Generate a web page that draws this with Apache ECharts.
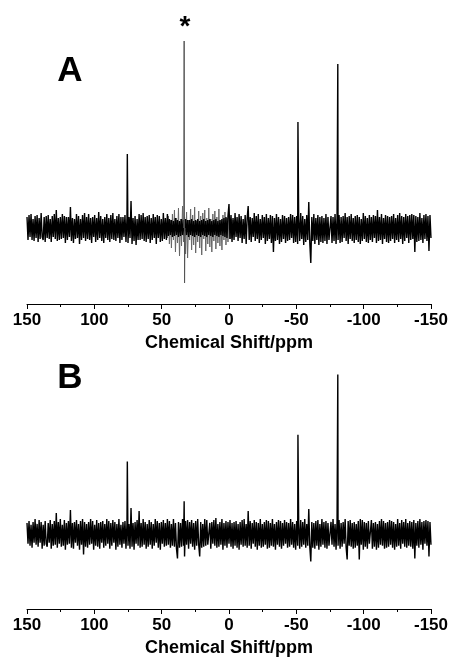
<!DOCTYPE html>
<html>
<head>
<meta charset="utf-8">
<script src="https://cdn.jsdelivr.net/npm/echarts@6/dist/echarts.min.js"></script>
<style>
  html, body { margin: 0; padding: 0; background: #fff; }
  #chart { width: 451px; height: 658px; }
</style>
</head>
<body>
<div id="chart"></div>
<script>
// Spectra sampled every 0.75 ppm from 150 ppm down to -150 ppm (401 points).
const ppmStart = 150;
const ppmStep = 0.75;

// Spectrum A: baseline noise (intensity, a.u.)
const noiseA = [
  11,-12,13,-9,14,-12,9,-13,12,-10,13,-14,10,-11,15,-9,-12,11,-14,12,
  -10,13,-11,9,-14,12,-9,14,-11,18,-13,10,-12,11,-11,14,-10,12,-15,11,
  -12,11,-9,21,-13,10,-15,9,-11,14,-10,12,-16,9,-12,13,-10,15,-13,11,
  -11,14,-12,10,-15,11,-9,13,-14,10,-12,16,-10,12,-13,9,-15,11,-10,14,
  -12,10,-14,13,-11,15,-12,9,-13,12,-10,14,-15,11,-12,11,-9,13,-14,10,
  -15,11,-10,27,-16,10,-13,12,-17,9,-12,14,-12,13,-11,15,-13,11,-14,12,
  -11,13,-15,10,-12,14,-10,11,-16,13,-10,12,-14,9,-13,15,-11,10,-12,14,
  -8,9,-7,8,-9,7,-8,10,-7,8,-9,7,-8,9,-7,8,-8,9,-7,8,
  -9,8,-7,9,-8,7,-9,8,-7,9,-8,7,-9,8,-7,9,-8,7,-9,8,
  -7,9,-8,7,-9,8,-7,9,-8,7,-9,8,-7,9,-8,10,-9,11,-10,12,
  24,-11,13,-14,10,-12,15,-9,11,-13,14,-10,12,-15,9,-11,13,-16,10,22,
  -12,11,-14,10,-9,15,-13,12,-11,14,-15,9,-12,13,-10,11,-16,14,-13,10,
  -11,13,-15,12,-24,10,-13,14,-12,11,-16,9,-14,13,-11,12,-15,10,-13,11,
  -12,14,-10,13,-15,11,-14,12,-16,10,-13,15,-11,12,-17,9,-14,13,-12,26,
  -15,-35,11,-13,14,-16,10,-12,13,-17,11,-14,12,-15,10,-13,14,-16,11,-12,
  -14,12,-15,11,-13,14,-16,10,-12,13,-15,11,-14,12,-10,15,-13,11,-16,12,
  -11,14,-13,10,-15,12,-12,13,-14,11,-16,9,-13,15,-11,12,-14,10,-15,13,
  -12,11,-14,13,-10,12,-15,18,-13,11,-12,14,-16,10,-11,13,-14,12,-15,11,
  -13,12,-11,14,-15,10,-12,13,-14,15,-11,12,-16,11,-13,14,-10,12,-15,13,
  -12,14,-11,13,-24,12,-14,11,-13,15,-12,10,-15,13,-11,14,-13,12,-23,13,
  -10
];

// Spectrum A: lighter trace in the 46.5 .. -4.5 ppm window
const grayStartA = 46.5;
const grayA = [
  4,-10,12,-16,8,-20,14,-12,18,-24,10,-15,20,-28,9,-18,22,-14,11,-26,
  16,-30,8,-12,19,-22,13,-17,21,-25,7,-14,17,-20,12,-27,15,-11,18,-23,
  10,-16,20,-19,9,-24,14,-13,17,-21,11,-15,19,-18,8,-22,13,-12,16,-17,
  10,-14,12,-11,9,-10,8,-7,5
];

// Spectrum A: resonances [ppm, intensity]
const peaksA = [[75.5, 74], [-51.2, 106], [-80.8, 164]];
// Spectrum A: reference line marked with *
const refPeakA = [[33.6, 0], [33.3, 187], [33.0, -55], [32.7, 0]];

// Spectrum B: baseline noise (intensity, a.u.)
const noiseB = [
  11,-10,13,-12,9,-14,12,-9,15,-11,10,-13,14,-9,12,-15,9,-12,13,-10,
  -13,11,-9,14,-15,10,-12,13,-11,21,-14,12,-10,15,-13,9,-12,14,-16,11,
  -11,13,-10,24,-14,11,-15,12,-9,14,-12,10,-16,13,-11,15,-21,12,-13,10,
  -14,12,-11,15,-10,13,-16,9,-12,14,-13,11,-15,12,-9,13,-14,10,-12,15,
  -10,13,-15,11,-12,14,-9,12,-16,10,-13,15,-11,9,-14,12,-10,13,-15,11,
  -12,10,-15,26,-13,11,-16,12,-10,14,-12,23,-14,11,-13,15,-11,12,-15,10,
  -13,14,-11,12,-15,10,-12,15,-9,13,-14,11,-16,12,-10,14,-13,11,-12,15,
  -11,13,-14,10,-12,15,-13,11,-15,-25,12,-14,11,-13,15,-12,-23,13,-11,14,
  -15,12,-10,14,-13,11,-16,13,-12,15,-11,-23,12,-14,10,-13,15,-12,14,-11,
  -13,11,-15,12,-10,14,-12,16,-14,10,-13,12,-11,15,-16,11,-12,13,-14,12,
  -10,14,-13,11,-15,12,-12,13,-14,10,-16,12,-11,14,-13,15,-12,10,-14,23,
  -12,13,-15,11,-10,14,-13,12,-16,11,-12,15,-14,10,-13,12,-11,14,-15,13,
  -14,11,-12,15,-13,10,-16,12,-11,14,-13,13,-15,11,-12,14,-10,12,-14,11,
  -13,15,-11,12,-14,10,-16,13,-12,11,-15,14,-13,12,-11,15,-14,10,-12,25,
  -13,-28,12,-14,11,-15,13,-12,14,-16,10,-13,15,-11,12,-14,13,-15,11,-12,
  -14,12,-11,15,-13,10,-16,13,-12,14,-15,11,-13,12,-10,15,-14,-26,13,-12,
  14,-13,11,-15,12,-14,10,-12,13,-26,15,-11,14,-16,12,-13,11,-15,13,-10,
  -12,14,-15,11,-13,12,-16,10,-14,13,-11,15,-12,13,-15,11,-14,12,-13,14,
  -11,13,-14,12,-16,10,-13,15,-12,11,-15,14,-10,12,-13,15,-14,11,-12,13,
  -13,12,-15,14,-25,11,-12,13,-14,15,-11,12,-16,13,-10,14,-12,13,-23,12,
  -11
];

// Spectrum B: resonances [ppm, intensity]
const peaksB = [[75.5, 73], [33.3, 33], [-51.2, 100], [-80.8, 161]];

// Axis ticks (ppm)
const tickMin = -150;
const tickMax = 150;
const tickStep = 50;
const axisTitle = 'Chemical Shift/ppm';

function sampled(values, start, step) {
  return values.map((v, i) => [start - i * step, v]);
}
function withPeaks(points, peaks) {
  return points.concat(peaks).sort((a, b) => b[0] - a[0]);
}

const FONT = "'Liberation Sans', Arial, Helvetica, sans-serif";

function makeX(gridIndex) {
  return {
    gridIndex: gridIndex,
    type: 'value',
    min: tickMin,
    max: tickMax,
    interval: tickStep,
    inverse: true,
    name: axisTitle,
    nameLocation: 'middle',
    nameGap: 30,
    nameTextStyle: { fontFamily: FONT, fontWeight: 'bold', fontSize: 18, color: '#000' },
    axisLine: { show: true, onZero: false, lineStyle: { color: '#000', width: 1 } },
    axisTick: { show: true, inside: false, length: 5, lineStyle: { color: '#000', width: 1 } },
    minorTick: { show: true, splitNumber: 2, length: 3, lineStyle: { color: '#000', width: 1 } },
    splitLine: { show: false },
    axisLabel: { fontFamily: FONT, fontWeight: 'bold', fontSize: 17, color: '#000', margin: 8 }
  };
}
function makeY(gridIndex) {
  return { gridIndex: gridIndex, type: 'value', min: -76, max: 208, show: false, splitLine: { show: false } };
}
function lineSeries(idx, data, color, width, z) {
  return {
    type: 'line', xAxisIndex: idx, yAxisIndex: idx, data: data,
    showSymbol: false, symbol: 'none', silent: true, z: z, clip: false,
    lineStyle: { color: color, width: width }
  };
}

const chart = echarts.init(document.getElementById('chart'), null, { renderer: 'canvas' });
chart.setOption({
  animation: false,
  backgroundColor: '#fff',
  grid: [
    { left: 27, right: 20, top: 20, height: 284 },
    { left: 27, right: 20, top: 328, height: 284 }
  ],
  xAxis: [makeX(0), makeX(1)],
  yAxis: [makeY(0), makeY(1)],
  series: [
    lineSeries(0, sampled(grayA, grayStartA, ppmStep), '#666', 1, 1),
    lineSeries(0, withPeaks(sampled(noiseA, ppmStart, ppmStep), peaksA), '#000', 1.4, 2),
    lineSeries(0, refPeakA, '#555', 1, 3),
    lineSeries(1, withPeaks(sampled(noiseB, ppmStart, ppmStep), peaksB), '#000', 1.4, 2)
  ],
  graphic: [
    { type: 'text', style: { text: 'A', x: 70, y: 71, align: 'center', verticalAlign: 'middle', fill: '#000', font: "bold 35px " + FONT } },
    { type: 'text', style: { text: 'B', x: 70, y: 378, align: 'center', verticalAlign: 'middle', fill: '#000', font: "bold 35px " + FONT } },
    { type: 'text', style: { text: '*', x: 185, y: 27, align: 'center', verticalAlign: 'middle', fill: '#000', font: "bold 28px " + FONT } }
  ]
});
</script>
</body>
</html>
